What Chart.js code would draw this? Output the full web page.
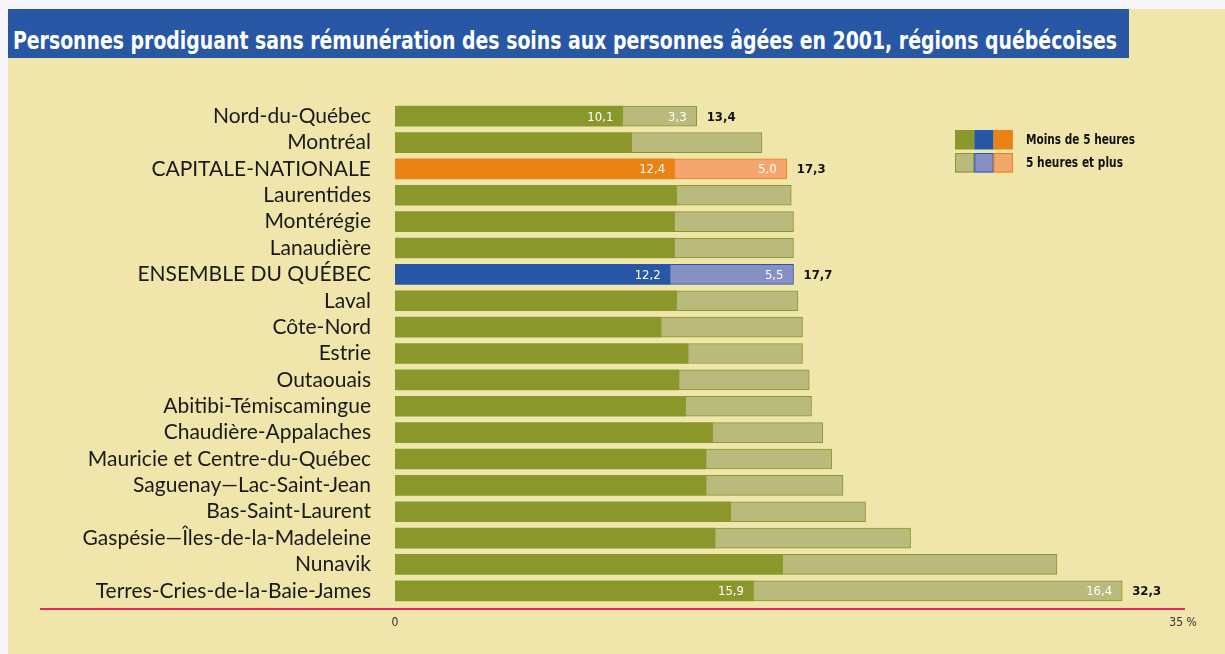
<!DOCTYPE html>
<html>
<head>
<meta charset="utf-8">
<script src="https://cdn.jsdelivr.net/npm/chart.js@4.4.1/dist/chart.umd.min.js"></script>
<style>
  html, body { margin: 0; padding: 0; background: #f5f5fa; width: 1225px; height: 654px; overflow: hidden; }
  #panel { position: absolute; left: 8px; top: 9px; width: 1217px; height: 645px; background: #f0e5ab; }
  #titlebar { position: absolute; left: 8px; top: 9px; width: 1121px; height: 49px; background: #2858a5; z-index: 2; overflow: hidden; }
  #titletext { position: absolute; left: 5px; top: 18px; white-space: nowrap; color: #ffffff;
    font-family: 'Liberation Sans Narrow', 'DejaVu Sans Condensed', 'Roboto', sans-serif; font-weight: bold; font-size: 25px; line-height: 28px; transform-origin: 0 0; }
  #wrap { position: absolute; left: 0; top: 0; width: 1225px; height: 654px; z-index: 1; }
</style>
</head>
<body>
<div id="panel"></div>
<div id="titlebar"><span id="titletext">Personnes prodiguant sans rémunération des soins aux personnes âgées en 2001, régions québécoises</span></div>
<div id="wrap"><canvas id="c" width="1225" height="654"></canvas></div>
<script>
const categories = [
  'Nord-du-Québec', 'Montréal', 'CAPITALE-NATIONALE', 'Laurentides', 'Montérégie', 'Lanaudière',
  'ENSEMBLE DU QUÉBEC', 'Laval', 'Côte-Nord', 'Estrie', 'Outaouais', 'Abitibi-Témiscamingue',
  'Chaudière-Appalaches', 'Mauricie et Centre-du-Québec', 'Saguenay—Lac-Saint-Jean', 'Bas-Saint-Laurent',
  'Gaspésie—Îles-de-la-Madeleine', 'Nunavik', 'Terres-Cries-de-la-Baie-James'
];
const moinsDe5 = [10.1, 10.5, 12.4, 12.5, 12.4, 12.4, 12.2, 12.5, 11.8, 13.0, 12.6, 12.9, 14.1, 13.8, 13.8, 14.9, 14.2, 17.2, 15.9];
const cinqEtPlus = [3.3, 5.8, 5.0, 5.1, 5.3, 5.3, 5.5, 5.4, 6.3, 5.1, 5.8, 5.6, 4.9, 5.6, 6.1, 6.0, 8.7, 12.2, 16.4];
const totals = ['13,4', null, '17,3', null, null, null, '17,7', null, null, null, null, null, null, null, null, null, null, null, '32,3'];
const shownSegments = [0, 2, 6, 18];
const xTicks = [0, 35];
const xTickLabels = ['0', '35 %'];
const seriesNames = ['Moins de 5 heures', '5 heures et plus'];

// fit title width
(function(){
  const t = document.getElementById('titletext');
  const w = t.getBoundingClientRect().width;
  t.style.transform = 'scaleX(' + (1104 / w) + ')';
})();

const darkGreen = '#8a982b', lightGreen = '#b9ba7c';
const darkOrange = '#ea8314', lightOrange = '#f4a66e';
const darkBlue = '#2858a5', lightBlue = '#8790c4';
function darkColor(i) { return i === 2 ? darkOrange : (i === 6 ? darkBlue : darkGreen); }
function lightColor(i) { return i === 2 ? lightOrange : (i === 6 ? lightBlue : lightGreen); }

const narrow = "'Liberation Sans Narrow', 'DejaVu Sans Condensed', 'Roboto', sans-serif";

function fitText(ctx, text, x, y, width) {
  const w = ctx.measureText(text).width;
  ctx.save();
  ctx.translate(x, y);
  ctx.scale(width / w, 1);
  ctx.fillText(text, 0, 0);
  ctx.restore();
}

const overlay = {
  id: 'overlay',
  afterDatasetsDraw(chart) {
    const ctx = chart.ctx;
    const ca = chart.chartArea;
    const m0 = chart.getDatasetMeta(0).data;
    const m1 = chart.getDatasetMeta(1).data;
    ctx.save();
    // value labels
    ctx.textBaseline = 'middle';
    shownSegments.forEach(i => {
      const b0 = m0[i], b1 = m1[i];
      ctx.font = '13px ' + narrow;
      ctx.fillStyle = '#ffffff';
      ctx.textAlign = 'right';
      ctx.fillText(moinsDe5[i].toFixed(1).replace('.', ','), b0.x - 9, b0.y + 1);
      ctx.fillText(cinqEtPlus[i].toFixed(1).replace('.', ','), b1.x - 10, b1.y + 1);
      if (totals[i]) {
        ctx.font = 'bold 13px ' + narrow;
        ctx.fillStyle = '#111111';
        ctx.textAlign = 'left';
        ctx.fillText(totals[i], b1.x + 10, b1.y + 1);
      }
    });
    // axis line
    ctx.strokeStyle = '#e5285e';
    ctx.lineWidth = 2;
    ctx.beginPath();
    ctx.moveTo(40, ca.bottom + 5);
    ctx.lineTo(ca.right + 2, ca.bottom + 5);
    ctx.stroke();
    // legend
    const lx = 955, ly = 130, sw = 19.3, sh = 19.5;
    const rows = [[darkGreen, darkBlue, darkOrange], [lightGreen, lightBlue, lightOrange]];
    const borders = [darkGreen, darkBlue, darkOrange];
    const textWidths = [109, 97];
    rows.forEach((cols, r) => {
      const y = ly + r * 23;
      cols.forEach((c, k) => {
        ctx.fillStyle = c;
        ctx.fillRect(lx + k * sw, y, sw, sh);
        if (r === 1) {
          ctx.strokeStyle = borders[k];
          ctx.lineWidth = 1;
          ctx.strokeRect(lx + k * sw + 0.5, y + 0.5, sw - 1, sh - 1);
        }
      });
      ctx.fillStyle = '#111111';
      ctx.font = 'bold 14px ' + narrow;
      ctx.textAlign = 'left';
      ctx.textBaseline = 'middle';
      fitText(ctx, seriesNames[r], 1026, y + sh / 2 + 0.5, textWidths[r]);
    });
    ctx.restore();
  }
};

new Chart(document.getElementById('c'), {
  type: 'bar',
  data: {
    labels: categories,
    datasets: [
      {
        label: seriesNames[0],
        data: moinsDe5,
        backgroundColor: categories.map((_, i) => darkColor(i)),
        borderWidth: 0,
        barThickness: 20
      },
      {
        label: seriesNames[1],
        data: cinqEtPlus,
        backgroundColor: categories.map((_, i) => lightColor(i)),
        borderColor: categories.map((_, i) => darkColor(i)),
        borderWidth: 1,
        borderSkipped: false,
        barThickness: 20
      }
    ]
  },
  options: {
    indexAxis: 'y',
    responsive: false,
    animation: false,
    devicePixelRatio: 1,
    layout: { padding: { top: 103, right: 42, left: 0, bottom: 0 } },
    plugins: { legend: { display: false }, tooltip: { enabled: false }, title: { display: false } },
    scales: {
      x: {
        stacked: true,
        min: 0, max: 35,
        grid: { display: false, drawTicks: false },
        border: { display: false },
        afterBuildTicks(scale) { scale.ticks = xTicks.map(v => ({ value: v })); },
        afterFit(scale) { scale.height = 50; },
        ticks: {
          autoSkip: false,
          maxRotation: 0,
          padding: 12,
          color: '#333333',
          font: { family: narrow, size: 12 },
          callback(v) { const k = xTicks.indexOf(v); return k >= 0 ? xTickLabels[k] : ''; }
        }
      },
      y: {
        stacked: true,
        grid: { display: false, drawTicks: false },
        border: { display: false },
        afterFit(scale) { scale.width = 395; },
        ticks: {
          autoSkip: false,
          padding: 24,
          color: '#1a1a1a',
          font: { family: "Lato, 'Open Sans', sans-serif", size: 21 }
        }
      }
    }
  },
  plugins: [overlay]
});
</script>
</body>
</html>
